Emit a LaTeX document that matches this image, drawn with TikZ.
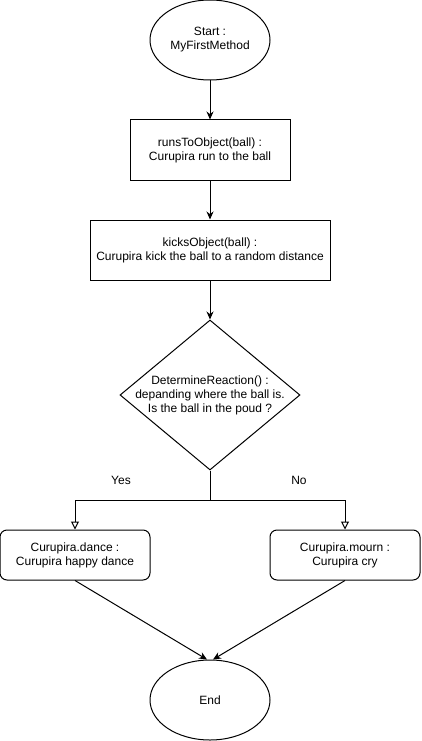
\documentclass[tikz,border=0pt]{standalone}
\usepackage{fontspec}
\setmainfont{Liberation Sans}
\usetikzlibrary{shapes.geometric,arrows.meta}
\begin{document}
\begin{tikzpicture}[x=1pt, y=-1pt, line width=1pt, every node/.style={font=\fontsize{12}{14}\selectfont}]
\tikzset{etat/.style={draw, ellipse, minimum width=120pt, minimum height=80pt, inner sep=0pt, align=center}}
\tikzset{boite/.style={draw, rectangle, minimum height=60pt, align=center}}
\tikzset{choix/.style={draw, diamond, minimum width=180pt, minimum height=150pt, inner sep=0pt}}
\tikzset{issue/.style={draw, rectangle, rounded corners=7pt, minimum width=150pt, minimum height=50pt, align=center}}
\tikzset{fleche/.style={-{Stealth[length=8pt, width=7pt]}}}
\tikzset{ouvert/.style={-{Triangle[open, length=8pt, width=8pt]}}}
\useasboundingbox (0,0) rectangle (421,741);
\node[etat] (debut) at (210,40) {Start :\\MyFirstMethod};
\node[boite, minimum width=160pt] (court) at (210,150) {runsToObject(ball) :\\Curupira run to the ball};
\node[boite, minimum width=240pt] (frappe) at (210,250) {kicksObject(ball) :\\Curupira kick the ball to a random distance};
\node[choix, label={[align=center]center:DetermineReaction() :\\depanding where the ball is.\\Is the ball in the poud ?}] (reaction) at (210,395) {};
\node (oui) at (121,480) {Yes};
\node (non) at (299,480) {No};
\coordinate (branche) at (210,500);
\node[issue] (danse) at (75,555) {Curupira.dance :\\Curupira happy dance};
\node[issue] (pleure) at (345,555) {Curupira.mourn :\\Curupira cry};
\node[etat] (arret) at (210,700) {End};
\draw[fleche] (debut) -- (court);
\draw[fleche] (court) -- (frappe);
\draw[fleche] (frappe) -- (reaction);
\draw (reaction) -- (branche);
\draw[ouvert] (branche) -| (danse);
\draw[ouvert] (branche) -| (pleure);
\draw[fleche] (danse.south) -- ([xshift=-3pt]arret.north);
\draw[fleche] (pleure.south) -- ([xshift=3pt]arret.north);
\end{tikzpicture}
\end{document}
